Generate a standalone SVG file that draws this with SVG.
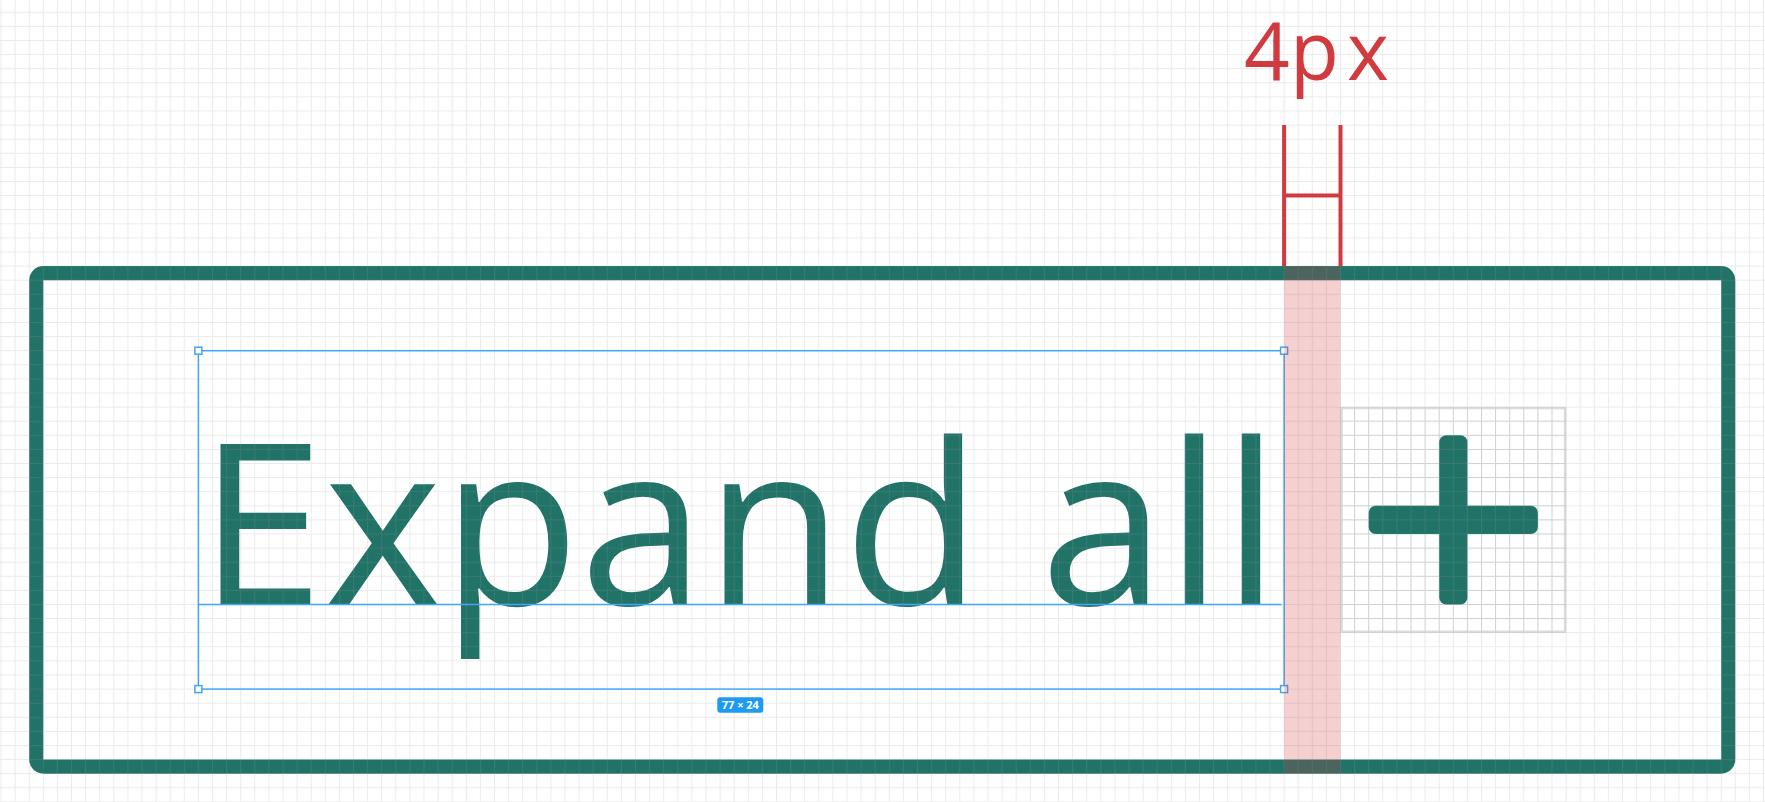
<svg xmlns="http://www.w3.org/2000/svg" width="1765" height="802" viewBox="0 0 1765 802">
<style>
.teal{fill:#217368}
.blue{stroke:#42a5f5;stroke-width:1.5;fill:none}
.handle{fill:#fff;stroke:#42a5f5;stroke-width:1.5}
.red{stroke:#d13b3f;stroke-width:4;fill:none}
</style>
<defs>
<pattern id="grid" patternUnits="userSpaceOnUse" x="0.5" y="-2.3" width="14.1" height="14.1">
<rect x="0" y="0" width="1" height="14.1" fill="#9a9a9a"/>
<rect x="0" y="0" width="14.1" height="1" fill="#9a9a9a"/>
</pattern>
<pattern id="igrid" patternUnits="userSpaceOnUse" x="0.5" y="-2.3" width="14.1" height="14.1">
<rect x="0" y="0" width="1" height="14.1" fill="#c8c8c8"/>
<rect x="0" y="0" width="14.1" height="1" fill="#c8c8c8"/>
</pattern>
</defs>
<rect width="1765" height="802" fill="#fff"/>
<g id="frame">
<rect x="36.25" y="273.15" width="1692" height="493.5" rx="7.05" fill="none" stroke="#217368" stroke-width="14.1"/>
</g>
<g id="label">
<text x="198.4" y="604.5" font-family="'Open Sans', sans-serif" font-size="225.6" class="teal">Expand all</text>
</g>
<g id="icon">
<rect x="1341.5" y="408.1" width="223.6" height="223.6" fill="url(#igrid)" opacity="0.6"/>
<rect x="1341.5" y="408.1" width="223.6" height="223.6" fill="none" stroke="#dcdcdc" stroke-width="2.5"/>
<rect x="1439.2" y="435.3" width="28.2" height="169.2" rx="7" class="teal"/>
<rect x="1368.7" y="505.8" width="169.2" height="28.2" rx="7" class="teal"/>
</g>
<rect width="1765" height="802" fill="url(#grid)" opacity="0.2"/>
<g id="selection">
<rect x="198.4" y="350.7" width="1085.7" height="338.4" class="blue"/>
<line x1="198.4" y1="604.5" x2="1281.7" y2="604.5" class="blue"/>
<rect x="194.9" y="347.2" width="7" height="7" class="handle"/>
<rect x="1280.6" y="347.2" width="7" height="7" class="handle"/>
<rect x="194.9" y="685.6" width="7" height="7" class="handle"/>
<rect x="1280.6" y="685.6" width="7" height="7" class="handle"/>
<rect x="717.3" y="697.3" width="46" height="15.4" rx="3" fill="#1e9bf0"/>
<text x="740.3" y="709" text-anchor="middle" font-family="'Open Sans', sans-serif" font-size="11" font-weight="bold" fill="#fff">77 × 24</text>
</g>
<g id="connectors">
<rect x="1284.1" y="266.1" width="56.4" height="507.6" fill="#d13b3f" opacity="0.24"/>
<path class="red" d="M1284.1 125.1V266.1M1340.5 125.1V266.1M1284.1 195.6H1340.5"/>
</g>
<g id="dimension">
<text x="1244 1290 1347" y="80" font-family="'Open Sans', sans-serif" font-size="80" fill="#d13b3f">4px</text>
</g>
</svg>
